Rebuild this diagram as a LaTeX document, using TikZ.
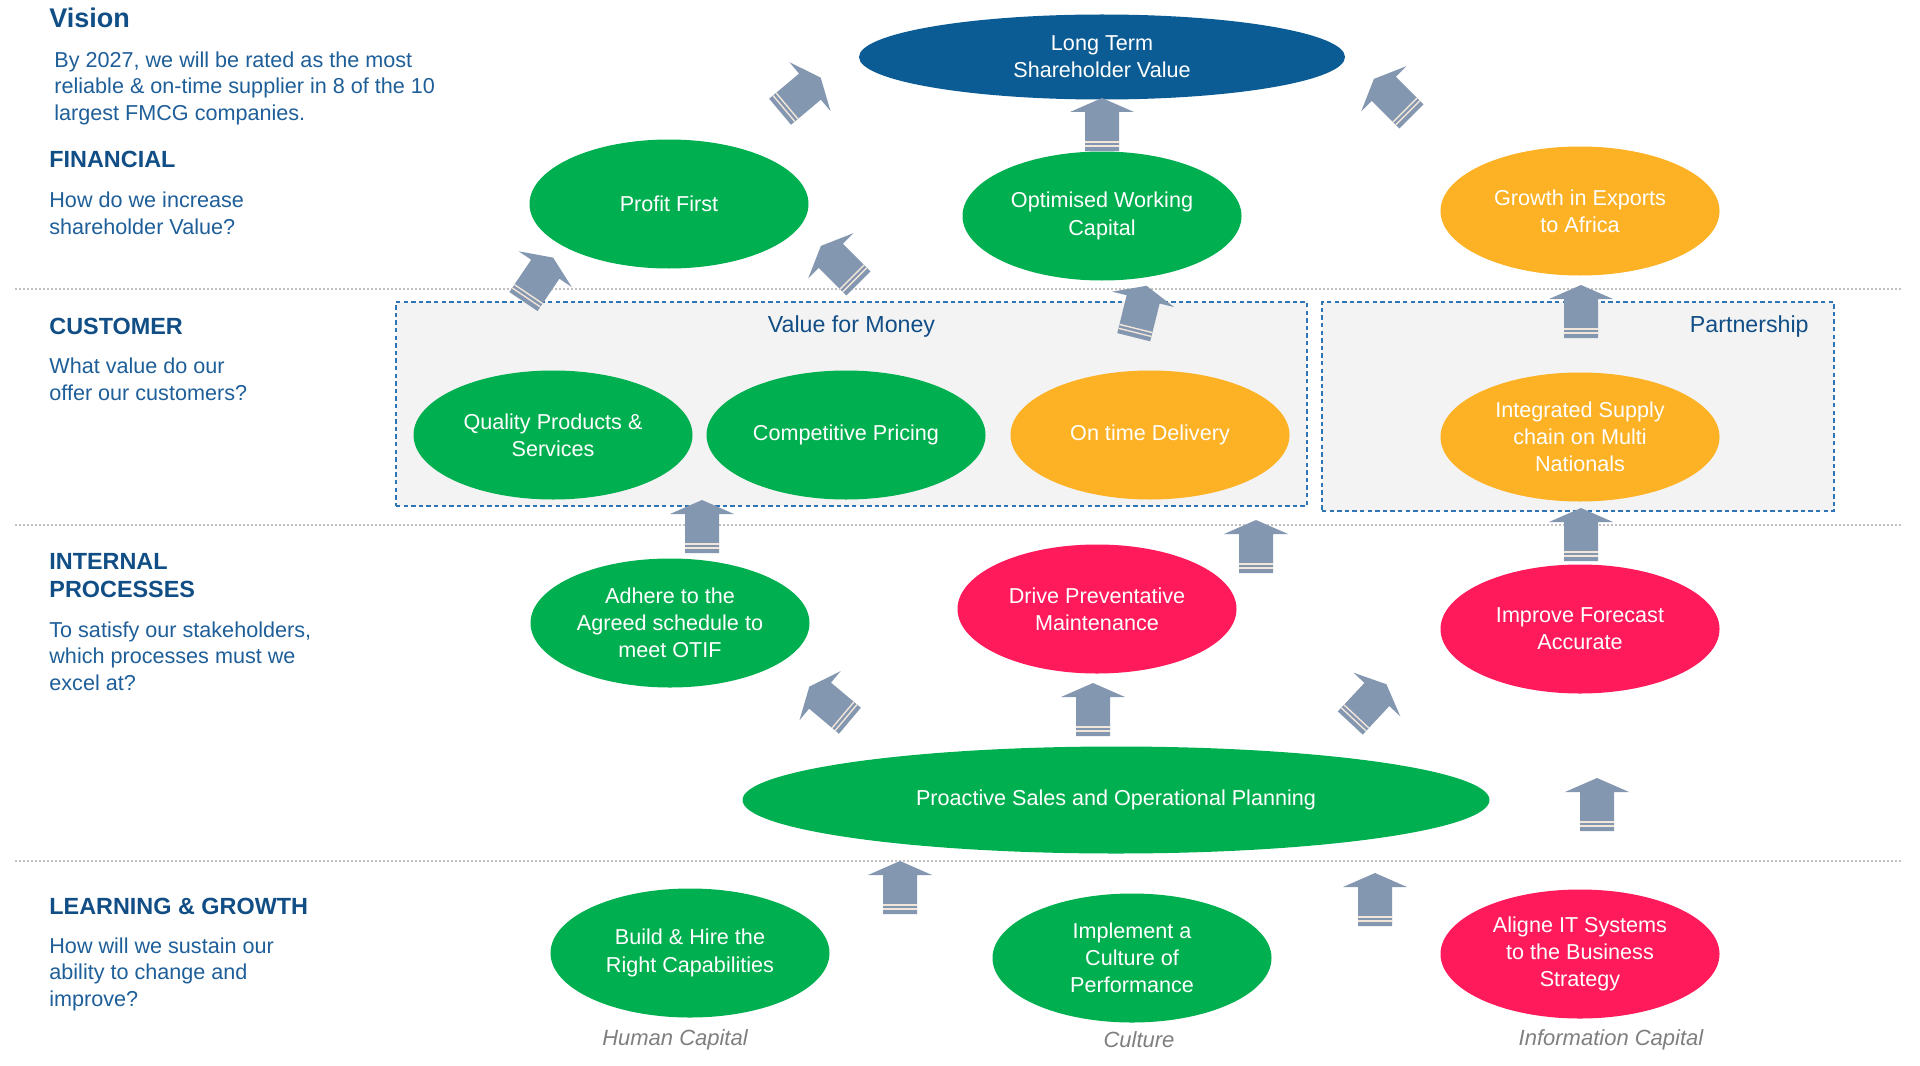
\documentclass[tikz,border=0pt]{standalone}
\usepackage{fontspec}
\setmainfont{Liberation Sans}
\usetikzlibrary{shapes.geometric}

\definecolor{kpigreen}{HTML}{00B050}
\definecolor{kpiorange}{HTML}{FDB124}
\definecolor{kpired}{HTML}{FF1A5B}
\definecolor{kpiblue}{HTML}{0B5C94}
\definecolor{arrowgrey}{HTML}{8497B0}
\definecolor{boxline}{HTML}{2E75B6}
\definecolor{boxfill}{HTML}{F3F3F3}
\definecolor{headblue}{HTML}{114E86}
\definecolor{textblue}{HTML}{1F5F99}
\definecolor{sepgrey}{HTML}{BFBFBF}
\definecolor{capgrey}{HTML}{7F7F7F}

\newcommand\bodyfont{\fontsize{10.8}{13.25}\selectfont}
\newcommand\goalfont{\fontsize{10.8}{13.6}\selectfont}
\newcommand\headfont{\fontsize{11.7}{14}\selectfont\bfseries}

\begin{document}
\begin{tikzpicture}[x=0.5pt, y=-0.5pt,
    goal/.style={ellipse, inner sep=0pt, minimum width=139.5pt, minimum height=64.5pt, text=white, align=center, font=\goalfont},
    green/.style={goal, fill=kpigreen}, orange/.style={goal, fill=kpiorange}, red/.style={goal, fill=kpired},
    head/.style={anchor=base west, inner sep=0pt, text=headblue, font=\headfont},
    body/.style={anchor=base west, inner sep=0pt, text=textblue, align=left, font=\bodyfont},
    custbox/.style={draw=boxline, fill=boxfill, line width=1pt, dash pattern=on 2.2pt off 1.6pt, inner sep=0pt},
    boxtitle/.style={inner sep=0pt, text=headblue, font=\fontsize{11.6}{14}\selectfont},
    capital/.style={inner sep=0pt, text=capgrey, font=\fontsize{11}{13}\selectfont\itshape},
    sep/.style={sepgrey, line width=0.6pt, dash pattern=on 1pt off 1pt},
    stripe/.style={draw=white!80!brown, line width=0.7pt},
    blockarrow/.pic={
        \fill[arrowgrey] (-17,26) -- (-17,-13) -- (-32,-13) -- (0,-27) -- (32,-13) -- (17,-13) -- (17,26) -- cycle;
        \draw[stripe] (-17,17) -- (17,17) (-17,21) -- (17,21);
    }]
    \useasboundingbox[fill=white] (0,0) rectangle (1920,1065);

    % perspective rows (body nodes sit on their last baseline)
    \draw[sep] (15,289) -- (1902,289) (15,525) -- (1902,525) (15,861) -- (1902,861);
    \node[head, font=\fontsize{13.5}{16}\selectfont\bfseries] (vision) at (49,28) {Vision};
    \node[body] (visiontxt) at (54,120) {By 2027, we will be rated as the most\\reliable \& on-time supplier in 8 of the 10\\largest FMCG companies.};
    \node[head] (fin) at (49,167) {FINANCIAL};
    \node[body] (fintxt) at (49,234) {How do we increase\\shareholder Value?};
    \node[head] (cust) at (49,334) {CUSTOMER};
    \node[body] (custtxt) at (49,400) {What value do our\\offer our customers?};
    \node[head, align=left] (proc) at (49,597) {INTERNAL\\PROCESSES};
    \node[body] (proctxt) at (49,690) {To satisfy our stakeholders,\\which processes must we\\excel at?};
    \node[head] (learn) at (49,914) {LEARNING \& GROWTH};
    \node[body] (learntxt) at (49,1006) {How will we sustain our\\ability to change and\\improve?};

    % customer groups
    \node[custbox, minimum width=455.5pt, minimum height=102pt] (vfm) at (851.5,404) {};
    \node[custbox, minimum width=256pt, minimum height=104.5pt] (pship) at (1578,406.5) {};
    \node[boxtitle] (vfmtitle) at ([yshift=-12.5pt]vfm.north) {Value for Money};
    \node[boxtitle, anchor=east] (pshiptitle) at ([xshift=-13pt,yshift=-12.5pt]pship.north east) {Partnership};

    % objectives
    \node[goal, fill=kpiblue, minimum width=243pt, minimum height=42.5pt] (ltsv) at (1102,57) {Long Term\\Shareholder Value};
    \node[green] (profit) at (669,204) {Profit First}; \node[green] (optwc) at (1102,216) {Optimised Working\\Capital}; \node[orange] (growth) at (1580,211) {Growth in Exports\\to Africa};
    \node[green] (quality) at (553,435) {Quality Products \&\\Services}; \node[green] (pricing) at (846,435) {Competitive Pricing};
    \node[orange] (ontime) at (1150,435) {On time Delivery}; \node[orange] (integ) at (1580,437) {Integrated Supply\\chain on Multi\\Nationals};
    \node[green] (adhere) at (670,623) {Adhere to the\\Agreed schedule to\\meet OTIF}; \node[red] (drive) at (1097,609) {Drive Preventative\\Maintenance}; \node[red] (forecast) at (1580,629) {Improve Forecast\\Accurate};
    \node[green, minimum width=373.5pt, minimum height=53.5pt] (plan) at (1116,800) {Proactive Sales and Operational Planning};
    \node[green] (build) at (690,953) {Build \& Hire the\\Right Capabilities}; \node[green] (culture) at (1132,958) {Implement a\\Culture of\\Performance}; \node[red] (alignit) at (1580,954) {Aligne IT Systems\\to the Business\\Strategy};
    \node[capital] (humancap) at (675,1040) {Human Capital}; \node[capital] (culturecap) at (1139,1040) {Culture}; \node[capital] (infocap) at (1611,1040) {Information Capital};

    % block arrows
    \pic[rotate=-50] (upA) at (800,95) {blockarrow}; \pic (upB) at (1102,125) {blockarrow}; \pic[rotate=45] (upC) at (1393,98) {blockarrow};
    \pic[rotate=-34] (upD) at (538,280) {blockarrow}; \pic[rotate=45] (upE) at (840,265) {blockarrow}; \pic[rotate=-14] (upF) at (1140,312) {blockarrow}; \pic (upG) at (1581,312) {blockarrow};
    \pic (upH) at (702,527) {blockarrow}; \pic (upI) at (1256,547) {blockarrow}; \pic (upJ) at (1581,535) {blockarrow};
    \pic[rotate=50] (upK) at (830,704) {blockarrow}; \pic (upL) at (1093,710) {blockarrow}; \pic[rotate=-43] (upM) at (1368,704) {blockarrow};
    \pic (upN) at (1597,805) {blockarrow}; \pic (upO) at (900,888) {blockarrow}; \pic (upP) at (1375,900) {blockarrow};
\end{tikzpicture}
\end{document}
